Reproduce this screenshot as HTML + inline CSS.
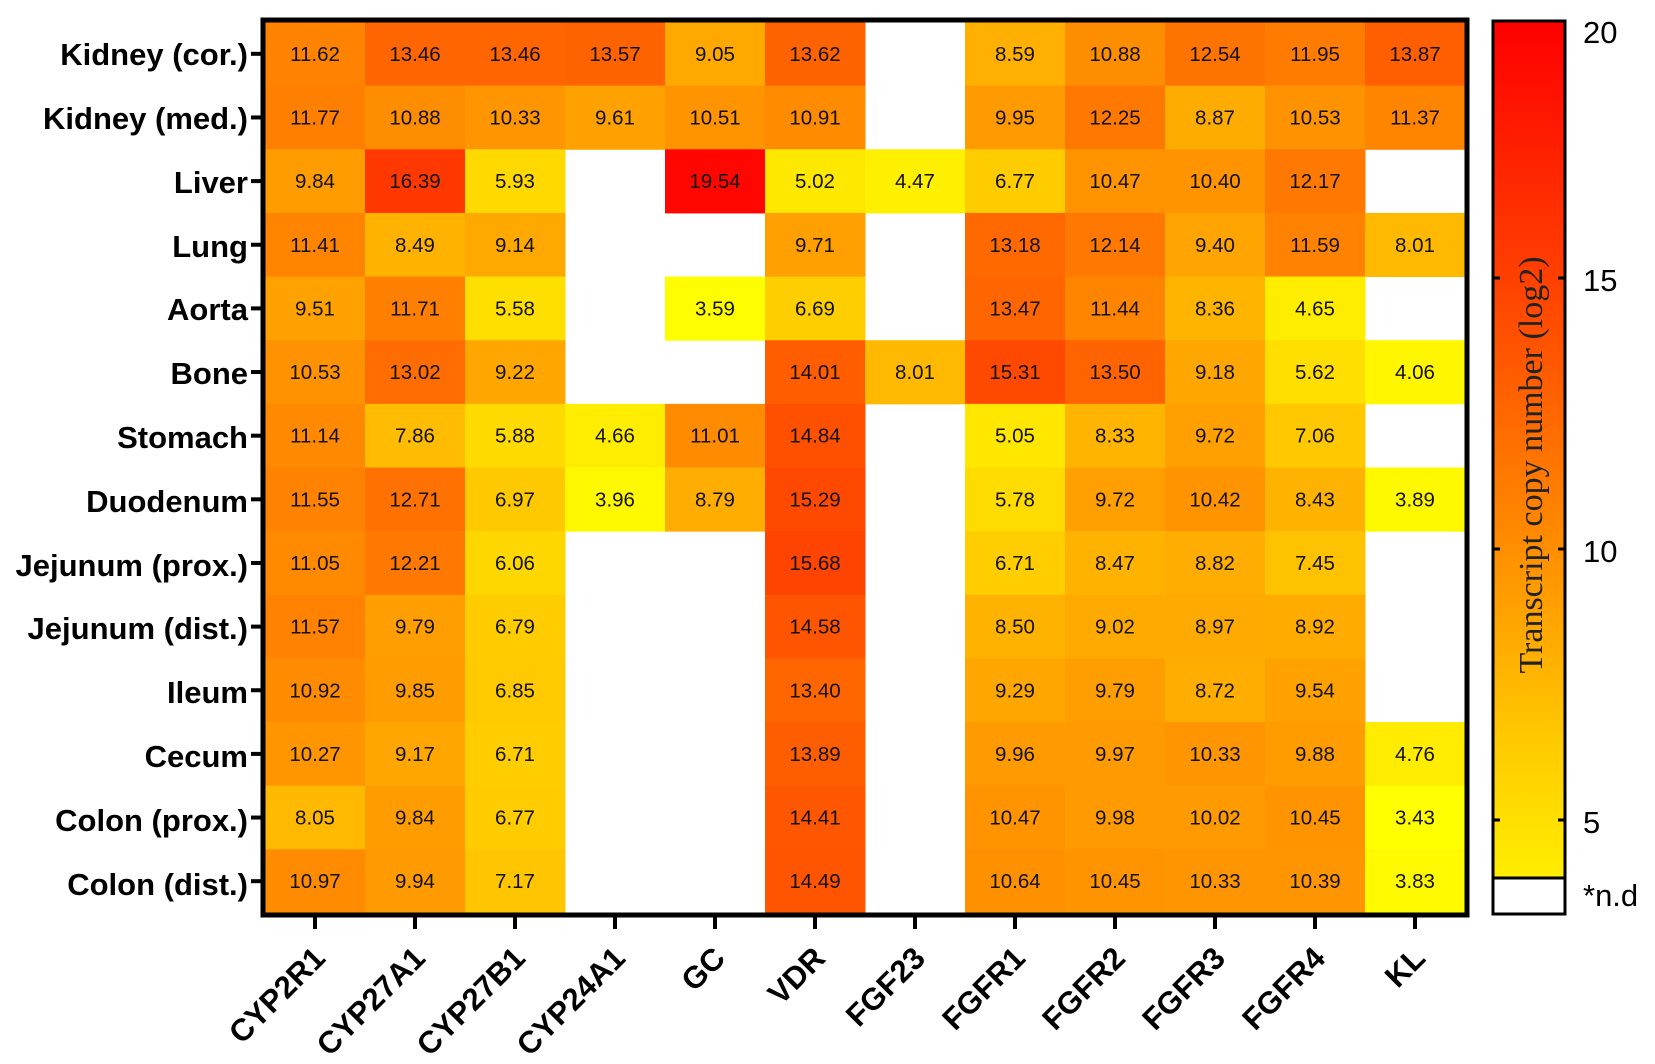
<!DOCTYPE html>
<html><head><meta charset="utf-8"><style>
html,body{margin:0;padding:0;background:#fff;}
svg{display:block;}
.rl{font:bold 31px "Liberation Sans",sans-serif;text-anchor:end;}
.cl{font:bold 31px "Liberation Sans",sans-serif;text-anchor:end;}
.v{font:20.5px "Liberation Sans",sans-serif;text-anchor:middle;fill:#111;}
.cb{font:31px "Liberation Sans",sans-serif;}
</style></head><body>
<svg id="s" width="1655" height="1064" viewBox="0 0 1655 1064" xmlns="http://www.w3.org/2000/svg">
<defs><linearGradient id="g" x1="0" y1="0" x2="0" y2="1">
<stop offset="0" stop-color="#ff0000"/><stop offset="0.3" stop-color="#ff4000"/><stop offset="0.6" stop-color="#ff8a00"/><stop offset="0.85" stop-color="#ffcc00"/><stop offset="1" stop-color="#ffee00"/></linearGradient></defs>
<g id="cells"></g>
<g id="vals"></g>
<rect x="263" y="20" width="1204" height="895" fill="none" stroke="#000" stroke-width="5"/>
<g id="ticks" stroke="#000" stroke-width="4"></g>
<g>
<text class="rl" x="248" y="65">Kidney (cor.)</text>
<text class="rl" x="248" y="129">Kidney (med.)</text>
<text class="rl" x="248" y="193">Liver</text>
<text class="rl" x="248" y="257">Lung</text>
<text class="rl" x="248" y="320">Aorta</text>
<text class="rl" x="248" y="384">Bone</text>
<text class="rl" x="248" y="448">Stomach</text>
<text class="rl" x="248" y="512">Duodenum</text>
<text class="rl" x="248" y="576">Jejunum (prox.)</text>
<text class="rl" x="248" y="639">Jejunum (dist.)</text>
<text class="rl" x="248" y="703">Ileum</text>
<text class="rl" x="248" y="767">Cecum</text>
<text class="rl" x="248" y="831">Colon (prox.)</text>
<text class="rl" x="248" y="895">Colon (dist.)</text>
</g>
<g>
<text class="cl" transform="translate(327,960) rotate(-45)">CYP2R1</text>
<text class="cl" transform="translate(427,960) rotate(-45)">CYP27A1</text>
<text class="cl" transform="translate(527,960) rotate(-45)">CYP27B1</text>
<text class="cl" transform="translate(627,960) rotate(-45)">CYP24A1</text>
<text class="cl" transform="translate(727,960) rotate(-45)">GC</text>
<text class="cl" transform="translate(827,960) rotate(-45)">VDR</text>
<text class="cl" transform="translate(927,960) rotate(-45)">FGF23</text>
<text class="cl" transform="translate(1027,960) rotate(-45)">FGFR1</text>
<text class="cl" transform="translate(1127,960) rotate(-45)">FGFR2</text>
<text class="cl" transform="translate(1227,960) rotate(-45)">FGFR3</text>
<text class="cl" transform="translate(1327,960) rotate(-45)">FGFR4</text>
<text class="cl" transform="translate(1427,960) rotate(-45)">KL</text>
</g>
<rect x="1493" y="21" width="72" height="857" fill="url(#g)" stroke="#000" stroke-width="3"/>
<rect x="1493" y="878" width="72" height="36" fill="#fff" stroke="#000" stroke-width="3"/>
<g stroke="#000" stroke-width="3">
<line x1="1493" y1="820" x2="1500" y2="820"/><line x1="1558" y1="820" x2="1565" y2="820"/>
<line x1="1493" y1="549" x2="1500" y2="549"/><line x1="1558" y1="549" x2="1565" y2="549"/>
<line x1="1493" y1="278" x2="1500" y2="278"/><line x1="1558" y1="278" x2="1565" y2="278"/>
</g>
<text class="cb" x="1583" y="43">20</text>
<text class="cb" x="1583" y="291">15</text>
<text class="cb" x="1583" y="562">10</text>
<text class="cb" x="1583" y="833">5</text>
<text class="cb" x="1583" y="906">*n.d</text>
<text transform="translate(1542,465) rotate(-90)" style="font:34px 'Liberation Serif',serif;text-anchor:middle;fill:#222">Transcript copy number (log2)</text>
</svg>
<script>
var D=[
[11.62,13.46,13.46,13.57,9.05,13.62,null,8.59,10.88,12.54,11.95,13.87],
[11.77,10.88,10.33,9.61,10.51,10.91,null,9.95,12.25,8.87,10.53,11.37],
[9.84,16.39,5.93,null,19.54,5.02,4.47,6.77,10.47,10.40,12.17,null],
[11.41,8.49,9.14,null,null,9.71,null,13.18,12.14,9.40,11.59,8.01],
[9.51,11.71,5.58,null,3.59,6.69,null,13.47,11.44,8.36,4.65,null],
[10.53,13.02,9.22,null,null,14.01,8.01,15.31,13.50,9.18,5.62,4.06],
[11.14,7.86,5.88,4.66,11.01,14.84,null,5.05,8.33,9.72,7.06,null],
[11.55,12.71,6.97,3.96,8.79,15.29,null,5.78,9.72,10.42,8.43,3.89],
[11.05,12.21,6.06,null,null,15.68,null,6.71,8.47,8.82,7.45,null],
[11.57,9.79,6.79,null,null,14.58,null,8.50,9.02,8.97,8.92,null],
[10.92,9.85,6.85,null,null,13.40,null,9.29,9.79,8.72,9.54,null],
[10.27,9.17,6.71,null,null,13.89,null,9.96,9.97,10.33,9.88,4.76],
[8.05,9.84,6.77,null,null,14.41,null,10.47,9.98,10.02,10.45,3.43],
[10.97,9.94,7.17,null,null,14.49,null,10.64,10.45,10.33,10.39,3.83]];
var ns="http://www.w3.org/2000/svg",c=document.getElementById("cells"),t=document.getElementById("ticks");
var rh=(913-22)/14;
function col(v){var g=Math.round(255*(20-v)/16.5);g=Math.max(0,Math.min(255,g));return "rgb(255,"+g+",0)";}
for(var i=0;i<14;i++)for(var j=0;j<12;j++){var v=D[i][j];if(v===null)continue;
var r=document.createElementNS(ns,"rect");r.setAttribute("x",265+100*j);r.setAttribute("y",22+rh*i);
r.setAttribute("width",100.5);r.setAttribute("height",rh+0.5);r.setAttribute("fill",col(v));c.appendChild(r);
var tx=document.createElementNS(ns,"text");tx.setAttribute("class","v");tx.setAttribute("x",315+100*j);tx.setAttribute("y",22+rh*(i+0.5)+7);tx.textContent=v.toFixed(2);document.getElementById("vals").appendChild(tx);}
for(var i=0;i<14;i++){var l=document.createElementNS(ns,"line");var y=22+rh*(i+0.5);l.setAttribute("x1",251);l.setAttribute("x2",263);l.setAttribute("y1",y);l.setAttribute("y2",y);t.appendChild(l);}
for(var j=0;j<12;j++){var l=document.createElementNS(ns,"line");var x=315+100*j;l.setAttribute("x1",x);l.setAttribute("x2",x);l.setAttribute("y1",915);l.setAttribute("y2",929);t.appendChild(l);}
</script>
</body></html>
